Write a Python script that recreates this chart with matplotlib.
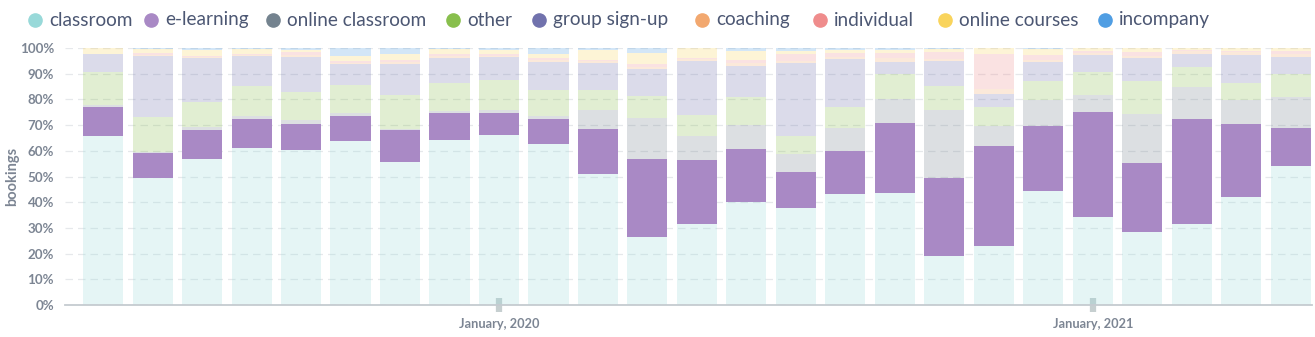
import matplotlib
matplotlib.use("Agg")
import matplotlib.pyplot as plt
import numpy as np

months = ["2019-05", "2019-06", "2019-07", "2019-08", "2019-09", "2019-10", "2019-11",
          "2019-12", "2020-01", "2020-02", "2020-03", "2020-04", "2020-05", "2020-06",
          "2020-07", "2020-08", "2020-09", "2020-10", "2020-11", "2020-12", "2021-01",
          "2021-02", "2021-03", "2021-04", "2021-05"]

series_names = ["classroom", "e-learning", "online classroom", "other", "group sign-up",
                "coaching", "individual", "online courses", "incompany"]

classroom        = [65.6, 49.5, 56.8, 61.0, 60.4, 63.9, 55.5, 64.2, 66.1, 62.6, 50.9, 26.5, 31.5,
                    40.0, 37.7, 43.2, 43.5, 19.1, 23.0, 44.4, 34.4, 28.5, 31.5, 42.1, 54.2]
e_learning       = [11.3, 9.6, 11.4, 11.3, 10.0, 9.7, 12.5, 10.5, 8.6, 9.7, 17.5, 30.3, 24.9,
                    20.6, 14.2, 16.5, 27.3, 30.5, 38.7, 25.6, 40.8, 26.7, 40.8, 28.3, 14.6]
online_classroom = [0.9, 0.6, 0.9, 1.1, 1.7, 1.3, 0.4, 0.9, 1.1, 1.3, 7.4, 16.2, 9.4,
                    9.4, 6.8, 9.0, 9.3, 26.2, 8.0, 9.9, 6.5, 19.1, 12.4, 9.3, 12.2]
other            = [12.7, 13.5, 10.0, 11.9, 10.9, 10.7, 13.3, 10.8, 11.7, 10.0, 7.8, 8.4, 8.1,
                    11.0, 7.1, 8.2, 9.8, 9.5, 7.4, 7.4, 9.1, 13.0, 7.8, 6.7, 8.9]
group_sign_up    = [7.3, 23.9, 17.0, 11.7, 13.6, 8.2, 12.1, 9.7, 8.9, 11.1, 10.6, 10.7, 21.2,
                    12.1, 28.4, 18.8, 4.8, 9.8, 4.9, 7.4, 6.6, 8.8, 5.2, 10.9, 6.7]
coaching         = [0.0, 0.3, 0.3, 0.3, 0.5, 0.5, 0.8, 0.6, 0.5, 0.6, 0.6, 0.8, 0.5,
                    1.2, 0.9, 0.8, 1.3, 0.8, 2.0, 0.8, 0.7, 0.6, 1.0, 1.0, 0.9]
individual       = [0.0, 0.7, 0.6, 0.5, 1.2, 0.8, 0.9, 1.0, 0.8, 0.8, 0.7, 1.0, 0.5,
                    1.0, 2.6, 1.5, 2.1, 2.4, 13.7, 1.9, 0.6, 1.6, 0.5, 0.7, 1.2]
online_courses   = [2.2, 1.6, 2.2, 1.8, 1.0, 2.0, 2.2, 1.9, 1.7, 1.6, 3.7, 4.3, 3.9,
                    3.4, 1.3, 1.3, 1.2, 1.3, 2.3, 2.6, 1.3, 1.7, 0.8, 1.0, 1.3]
incompany        = [0.0, 0.4, 0.8, 0.4, 0.7, 3.0, 2.3, 0.4, 0.6, 2.3, 0.8, 2.0, 0.0,
                    1.3, 1.0, 0.6, 0.7, 0.4, 0.0, 0.3, 0.0, 0.0, 0.0, 0.0, 0.0]

tick_months = ["2020-01", "2021-01"]
tick_labels = ["January, 2020", "January, 2021"]

colors = ["#98D9D9", "#A989C5", "#74838F", "#88BF4D", "#7172AD",
          "#F2A86F", "#EF8C8C", "#F9D45C", "#509EE3"]
highlight = "e-learning"

data = np.array([classroom, e_learning, online_classroom, other, group_sign_up,
                 coaching, individual, online_courses, incompany], dtype=float)
shares = data / data.sum(axis=0)

fig = plt.figure(figsize=(13.15, 3.37), dpi=100)
W, H = 1315, 337
ax = fig.add_axes([65 / W, (H - 305) / H, (1312 - 65) / W, (305 - 48) / H])

x = np.arange(len(months))
bottom = np.zeros(len(months))
for name, col, vals in zip(series_names, colors, shares):
    ax.bar(x, vals, width=0.81, bottom=bottom, color=col,
           alpha=1.0 if name == highlight else 0.25, linewidth=0, zorder=2)
    bottom += vals

ax.set_xlim(-0.77, 24.43)
ax.set_ylim(0, 1.0)
yt = np.arange(0, 1.01, 0.1)
ax.set_yticks(yt)
ax.set_yticklabels([f"{int(round(v * 100))}%" for v in yt], fontfamily="Lato",
                   fontweight="bold", fontsize=9.6, color="#7c8593")
ax.yaxis.grid(True, color="#e6e8eb", linestyle=(0, (6, 4)), linewidth=0.9, zorder=0)
ax.set_axisbelow(True)
ax.tick_params(axis="y", length=0, pad=8)

ax.set_xticks([months.index(m) for m in tick_months])
ax.set_xticklabels(tick_labels, fontfamily="Lato", fontweight="bold", fontsize=9.2,
                   color="#7c8593")
ax.tick_params(axis="x", direction="inout", length=10, width=4.5, color="#c6cfd0", pad=4)

for s in ["top", "right", "left"]:
    ax.spines[s].set_visible(False)
ax.spines["bottom"].set_color("#c5cbd0")
ax.spines["bottom"].set_linewidth(1.3)

fig.text(12 / W, 1 - 176 / H, "bookings", rotation=90, ha="center", va="center",
         fontfamily="Lato", fontweight="bold", fontsize=10.5, color="#7c8593")

# legend
circle_x = [35, 151, 273, 453, 539, 702, 820, 945, 1105]
for name, col, cx in zip(series_names, colors, circle_x):
    fig.lines.append(matplotlib.lines.Line2D([cx / W], [1 - 20 / H], marker="o",
                     markersize=9.5, color=col, linestyle="none",
                     transform=fig.transFigure, figure=fig))
    fig.text((cx + 14) / W, 1 - 20 / H, name, ha="left", va="center",
             fontfamily="Lato", fontsize=13.7, color="#4c5773")

fig.savefig("out.png", dpi=100)
